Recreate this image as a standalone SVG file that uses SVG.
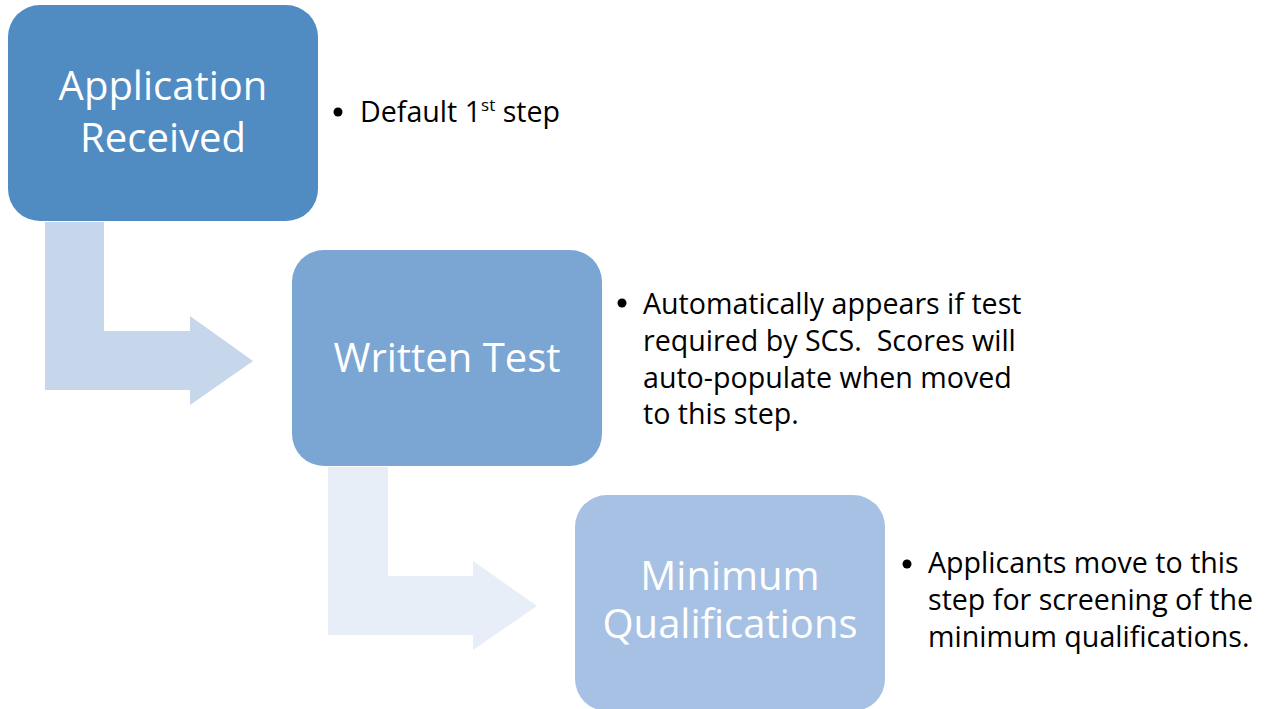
<svg xmlns="http://www.w3.org/2000/svg" width="1270" height="709" viewBox="0 0 1270 709">
<style>
.box-label{font-family:"Open Sans","Liberation Sans",sans-serif;font-size:40px;fill:#ffffff;text-anchor:middle}
.note{font-family:"Open Sans","Liberation Sans",sans-serif;font-size:28.6px;fill:#000000;white-space:pre}
.bullet{fill:#000000}
</style>
<rect width="1270" height="709" fill="#ffffff"/>
<g id="connectors">
<polygon id="arrow1" fill="#C6D6EB" points="45,222 104,222 104,331 190,331 190,316 253,361 190,405 190,390 45,390"/>
<polygon id="arrow2" fill="#E8EEF7" points="328,467 388,467 388,576 473,576 473,561 537,606 473,650 473,635 328,635"/>
</g>
<g id="node-application-received">
<rect x="8" y="5" width="310" height="216" rx="32" fill="#508BC2"/>
<text class="box-label" x="163" y="100">Application</text>
<text class="box-label" x="163" y="152">Received</text>
</g>
<g id="node-written-test">
<rect x="292" y="250" width="310" height="216" rx="32" fill="#7BA6D3"/>
<text class="box-label" x="447" y="372">Written Test</text>
</g>
<g id="node-minimum-qualifications">
<rect x="575" y="495" width="310" height="216" rx="32" fill="#A6C1E4"/>
<text class="box-label" x="730" y="590">Minimum</text>
<text class="box-label" x="730" y="638">Qualifications</text>
</g>
<g id="note-1">
<circle class="bullet" cx="338" cy="112" r="4.5"/>
<text class="note" x="360" y="122">Default 1<tspan font-size="17" dy="-11">st</tspan><tspan dy="11"> step</tspan></text>
</g>
<g id="note-2">
<circle class="bullet" cx="622" cy="303" r="4.5"/>
<text class="note" x="643" y="314">Automatically appears if test</text>
<text class="note" x="643" y="351" xml:space="preserve">required by SCS.&#160; Scores will</text>
<text class="note" x="643" y="388">auto-populate when moved</text>
<text class="note" x="643" y="424">to this step.</text>
</g>
<g id="note-3">
<circle class="bullet" cx="907" cy="564" r="4.5"/>
<text class="note" x="928" y="573">Applicants move to this</text>
<text class="note" x="928" y="610">step for screening of the</text>
<text class="note" x="928" y="647">minimum qualifications.</text>
</g>
</svg>
